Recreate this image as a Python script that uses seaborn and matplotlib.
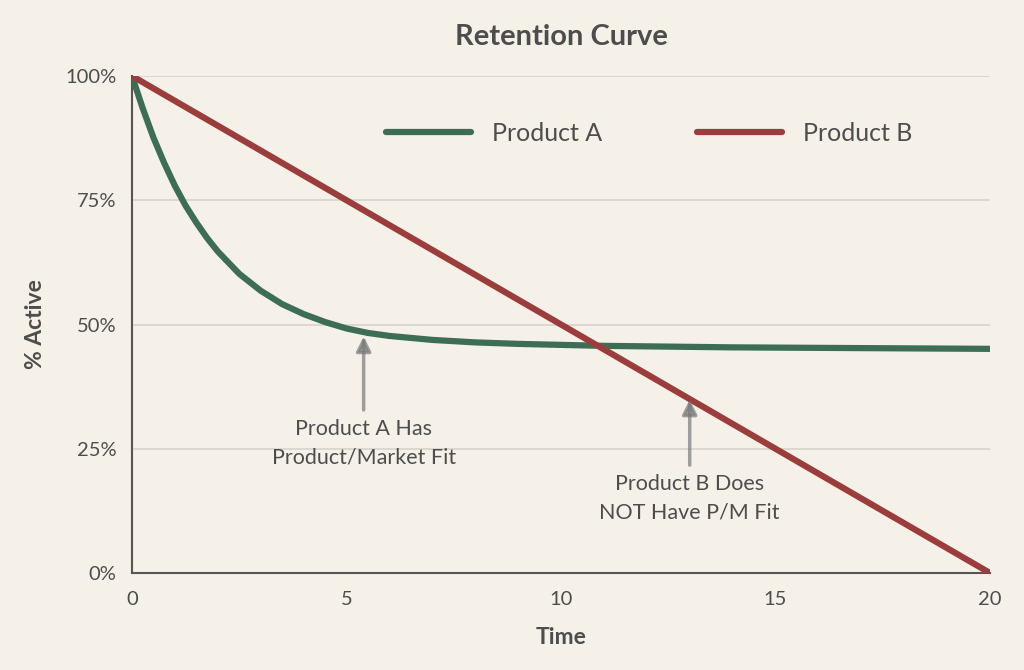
import numpy as np
import pandas as pd
import matplotlib
matplotlib.use("Agg")
import matplotlib.pyplot as plt
import seaborn as sns

# ---- data ----
time_a = [0, 0.25, 0.5, 0.75, 1, 1.25, 1.5, 1.75, 2, 2.5, 3, 3.5, 4, 4.5, 5, 5.5, 6, 7, 8, 9,
          10, 11, 12, 14, 16, 18, 20]
active_a = [100, 93.5, 87.6, 82.5, 77.9, 73.9, 70.5, 67.4, 64.7, 60.2, 56.8, 54.1, 52.1, 50.5,
            49.2, 48.3, 47.7, 46.9, 46.4, 46.1, 45.9, 45.7, 45.6, 45.4, 45.3, 45.2, 45.1]
time_b = [0, 5, 10, 15, 20]
active_b = [100, 75, 50, 25, 0]
series_names = ["Product A", "Product B"]
x_ticks = [0, 5, 10, 15, 20]
y_ticks = [0, 25, 50, 75, 100]
annot_text = ["Product A Has\nProduct/Market Fit", "Product B Does\nNOT Have P/M Fit"]
annot_tip = [(5.4, 47.6), (13.0, 34.9)]
annot_tail = [(5.4, 32.8), (13.0, 21.7)]

df = pd.concat([
    pd.DataFrame({"Time": time_a, "Active": active_a, "Series": series_names[0]}),
    pd.DataFrame({"Time": time_b, "Active": active_b, "Series": series_names[1]}),
])

BG = "#f5f1e9"
TXT = "#4d4d4d"
GREEN = "#3d6e55"
RED = "#9c3d3d"

sns.set_theme(style="white")
plt.rcParams["font.family"] = ["Lato", "DejaVu Sans"]

fig = plt.figure(figsize=(10.24, 6.70), dpi=100, facecolor=BG)
ax = fig.add_axes([132/1024, 1 - 573/670, (990-132)/1024, (573-76)/670])
ax.set_facecolor(BG)

sns.lineplot(data=df, x="Time", y="Active", hue="Series", palette=[GREEN, RED],
             linewidth=4.5, ax=ax, zorder=3)
for ln in ax.get_lines():
    ln.set_solid_capstyle("round")
    ln.set_solid_joinstyle("round")

ax.set_xlim(0, 20)
ax.set_ylim(0, 100)
ax.set_xticks(x_ticks)
ax.set_yticks(y_ticks)
ax.set_yticklabels([f"{v}%" for v in y_ticks])
ax.yaxis.grid(True, color="#d8d4cb", linewidth=1.2, zorder=0)
ax.xaxis.grid(False)
for s in ["top", "right"]:
    ax.spines[s].set_visible(False)
for s in ["left", "bottom"]:
    ax.spines[s].set_color("#555555")
    ax.spines[s].set_linewidth(1.5)
ax.tick_params(axis="both", direction="out", length=6, width=1.2, color="#555555",
               labelsize=14.5, labelcolor=TXT)
ax.tick_params(axis="x", pad=7)
ax.tick_params(axis="y", pad=5)

ax.set_xlabel("Time", fontsize=16.5, fontweight="bold", color=TXT, labelpad=14)
ax.set_ylabel("% Active", fontsize=16.5, fontweight="bold", color=TXT, labelpad=14)
ax.set_title("Retention Curve", fontsize=21, fontweight="bold", color=TXT, pad=22)

leg = ax.legend(loc="center", bbox_to_anchor=(0.603, 0.885), ncol=2, frameon=False,
                fontsize=18, handlelength=3.4, handletextpad=0.85, columnspacing=3.8)
for t in leg.get_texts():
    t.set_color(TXT)
for h in leg.get_lines():
    h.set_linewidth(4.5)
    h.set_solid_capstyle("round")

for txt, tip, tail in zip(annot_text, annot_tip, annot_tail):
    ax.annotate("", xy=tip, xytext=tail,
                arrowprops=dict(arrowstyle="-|>", color="#7a7a7a", lw=2.5, alpha=0.7,
                                mutation_scale=22, shrinkA=0, shrinkB=0), zorder=4)
    ax.text(tail[0], tail[1] - 1.8, txt, ha="center", va="top", fontsize=15.5,
            color=TXT, linespacing=1.55)

fig.savefig("out.png", dpi=100, facecolor=BG)
